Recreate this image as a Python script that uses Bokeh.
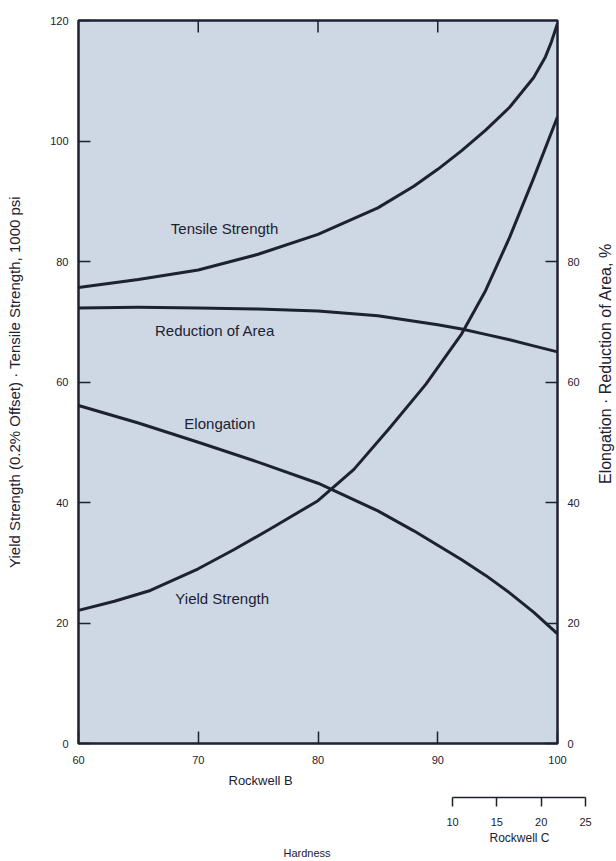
import math
from bokeh.plotting import figure
from bokeh.layouts import column, row
from bokeh.models import Range1d, LinearAxis, FixedTicker, Title
from bokeh.embed import file_html
from bokeh.resources import INLINE
from bokeh.core.properties import value

# Mechanical properties against Rockwell B hardness
tensile_hrb = [60, 65, 70, 75, 80, 85, 88, 90, 92, 94, 96, 98, 99, 99.5, 100]
tensile_ksi = [75.7, 77.0, 78.6, 81.2, 84.5, 88.9, 92.5, 95.3, 98.4, 101.8, 105.6, 110.5, 114.0, 116.5, 119.5]

yield_hrb = [60, 63, 66, 70, 73, 76, 80, 83, 86, 89, 92, 94, 96, 98, 100]
yield_ksi = [22.1, 23.6, 25.4, 29.0, 32.2, 35.6, 40.3, 45.5, 52.4, 59.6, 68.0, 75.2, 84.0, 93.8, 104.0]

reduction_hrb = [60, 65, 70, 75, 80, 85, 90, 92, 94, 96, 98, 100]
reduction_pct = [72.3, 72.4, 72.3, 72.1, 71.8, 71.0, 69.5, 68.8, 67.9, 67.0, 66.0, 65.0]

elong_hrb = [60, 65, 70, 75, 80, 85, 88, 90, 92, 94, 96, 98, 100]
elong_pct = [56.1, 53.2, 50.0, 46.7, 43.2, 38.6, 35.3, 32.9, 30.5, 27.9, 25.0, 21.8, 18.2]

# curve captions
label_text = ["Tensile Strength", "Reduction of Area", "Elongation", "Yield Strength"]
label_hrb = [72.2, 71.4, 71.8, 72.0]
label_val = [85.5, 68.5, 53.1, 24.1]

# axis ticks
hrb_ticks = [60, 70, 80, 90, 100]
top_ticks = [70, 80, 90]
left_ticks = [0, 20, 40, 60, 80, 100, 120]
right_ticks = [0, 20, 40, 60, 80]
hrc_ticks = [10, 15, 20, 25]

INK = "#1d2130"
PANEL = "#cdd8e4"
FONT = "Liberation Sans"

# page geometry (screen px)
W, H = 616, 861
TOP_H = 794                     # height of the chart row
STRIP_W = 26                    # narrow strip holding the right-hand axis title
MAIN_W = W - STRIP_W
FRAME_L, FRAME_R, FRAME_T, FRAME_B = 78, 557, 20, 743


def unalign(fig):
    if "frame_align" in fig.properties():
        fig.frame_align = False


def style_axis(ax, ticks, standoff):
    ax.ticker = FixedTicker(ticks=ticks)
    ax.major_tick_in = 12
    ax.major_tick_out = 0
    ax.major_tick_line_color = INK
    ax.major_tick_line_width = 1.5
    ax.minor_tick_line_color = None
    ax.axis_line_color = None
    ax.major_label_standoff = standoff
    ax.major_label_text_font = FONT
    ax.major_label_text_font_size = "11px"
    ax.major_label_text_color = INK
    ax.axis_label_text_font = FONT
    ax.axis_label_text_font_style = "normal"
    ax.axis_label_text_font_size = "15px"
    ax.axis_label_text_color = INK


# ---- main chart -------------------------------------------------------------
p = figure(width=MAIN_W, height=TOP_H, x_range=Range1d(60, 100), y_range=Range1d(0, 120),
           output_backend="svg", toolbar_location=None,
           min_border_left=FRAME_L, min_border_right=MAIN_W - FRAME_R,
           min_border_top=FRAME_T, min_border_bottom=TOP_H - FRAME_B,
           background_fill_color=PANEL, border_fill_color="white",
           outline_line_color=INK, outline_line_width=2.5)
unalign(p)
p.grid.visible = False

bottom = p.below[0]
style_axis(bottom, hrb_ticks, 12)

left = p.left[0]
style_axis(left, left_ticks, 10)
left.axis_label = "Yield Strength (0.2% Offset) \u00b7 Tensile Strength, 1000 psi"
left.axis_label_standoff = 24

right = LinearAxis()
style_axis(right, right_ticks, 10)
p.add_layout(right, "right")

# inward ticks along the top edge
p.ray(x=top_ticks, y=[p.y_range.end] * len(top_ticks), length=12, length_units="screen",
      angle=-math.pi / 2, line_color=INK, line_width=1.5)

for xs, ys in [(tensile_hrb, tensile_ksi), (reduction_hrb, reduction_pct),
               (elong_hrb, elong_pct), (yield_hrb, yield_ksi)]:
    p.line(xs, ys, line_width=3, line_color=INK, line_join="round")

p.text(x=label_hrb, y=label_val, text=label_text, text_font=value(FONT),
       text_font_size="15px", text_align="center", text_baseline="middle",
       text_color=INK)

p.add_layout(Title(text="Rockwell B", align="left", offset=150, standoff=8,
                   text_font=FONT, text_font_size="13px", text_font_style="normal",
                   text_color=INK), "below")

# ---- right-hand axis title, reading bottom to top ---------------------------
pr = figure(width=STRIP_W, height=TOP_H, x_range=Range1d(0, STRIP_W), y_range=Range1d(0, TOP_H),
            output_backend="svg", toolbar_location=None,
            x_axis_location=None, y_axis_location=None,
            min_border_left=0, min_border_right=0, min_border_top=0, min_border_bottom=0,
            outline_line_color=None, background_fill_color="white", border_fill_color="white")
unalign(pr)
pr.grid.visible = False
pr.text(x=[605 - MAIN_W], y=[TOP_H - 363], text=["Elongation \u00b7 Reduction of Area, %"],
        angle=math.pi / 2, text_font=value(FONT), text_font_size="16px",
        text_align="center", text_baseline="middle", text_color=INK)

# ---- Rockwell C scale strip ---------------------------------------------------
RC_PX = (452, 585)              # screen x of HRC 10 and HRC 25
k = 15 / (RC_PX[1] - RC_PX[0])
STRIP_H = H - TOP_H
p2 = figure(width=W, height=STRIP_H,
            x_range=Range1d(10 - RC_PX[0] * k, 10 + (W - RC_PX[0]) * k),
            y_range=Range1d(0, 1), output_backend="svg", toolbar_location=None,
            y_axis_location=None, min_border_left=0, min_border_right=0,
            min_border_top=0, min_border_bottom=STRIP_H - 3, outline_line_color=None,
            background_fill_color="white", border_fill_color="white")
unalign(p2)
p2.grid.visible = False
rc = p2.below[0]
rc.ticker = FixedTicker(ticks=hrc_ticks)
rc.bounds = (10, 25)
rc.major_tick_in = 0
rc.major_tick_out = 9
rc.major_tick_line_color = INK
rc.major_tick_line_width = 1.5
rc.minor_tick_line_color = None
rc.axis_line_color = INK
rc.axis_line_width = 1.5
rc.major_label_standoff = 11
rc.major_label_text_font = FONT
rc.major_label_text_font_size = "11px"
rc.major_label_text_color = INK

p2.add_layout(Title(text="Rockwell C", align="left", offset=489, standoff=0,
                    text_font=FONT, text_font_size="12px", text_font_style="normal",
                    text_color=INK), "below")
p2.add_layout(Title(text="Hardness", align="left", offset=283, standoff=0,
                    text_font=FONT, text_font_size="11px", text_font_style="normal",
                    text_color=INK), "below")

layout = column(row(p, pr, spacing=0), p2, spacing=0)
open("out.html", "w").write(file_html(layout, INLINE))
